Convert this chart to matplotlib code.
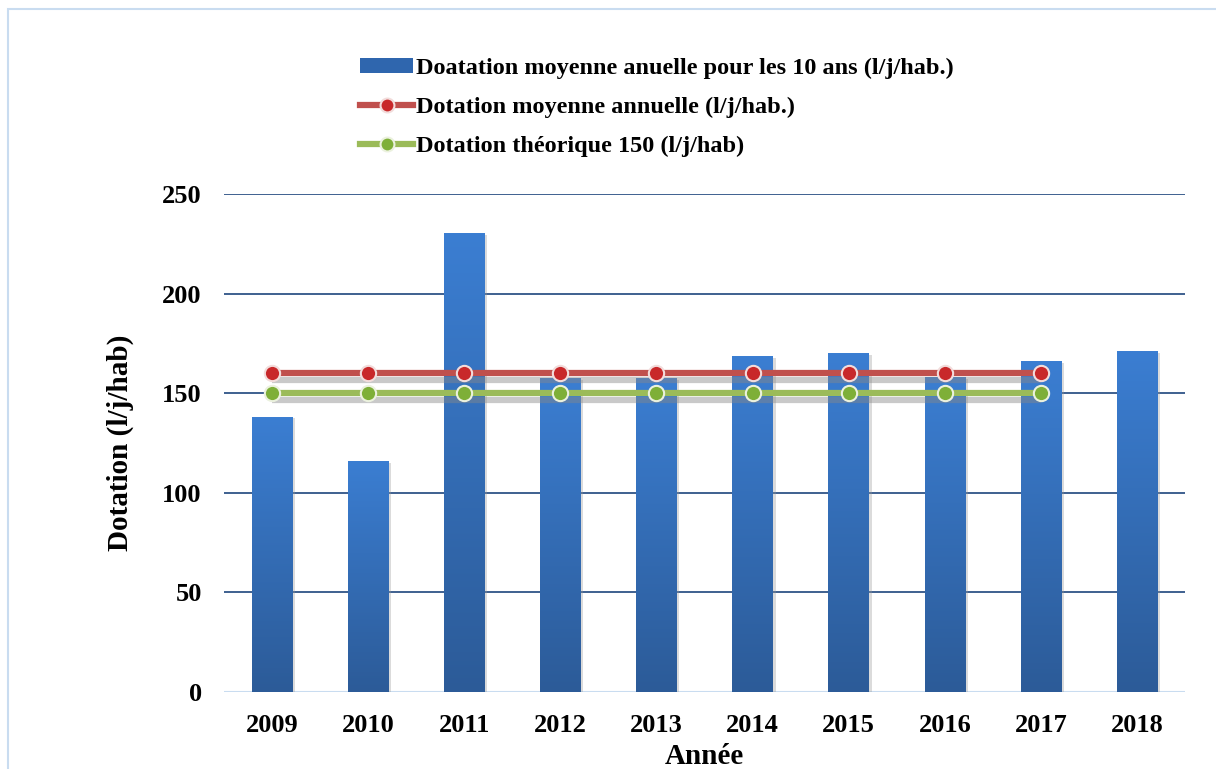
import matplotlib
matplotlib.use("Agg")
import matplotlib.pyplot as plt
import matplotlib.patheffects as pe
from matplotlib.patches import Patch, Rectangle
from matplotlib.lines import Line2D
from matplotlib.colors import LinearSegmentedColormap
import numpy as np

years = ["2009", "2010", "2011", "2012", "2013", "2014", "2015", "2016", "2017", "2018"]
bar_values = [138, 115.5, 230, 157.5, 157.5, 168.5, 170, 158, 166, 171]
line_years = ["2009", "2010", "2011", "2012", "2013", "2014", "2015", "2016", "2017"]
moyenne_values = [160, 160, 160, 160, 160, 160, 160, 160, 160]
theorique_values = [150, 150, 150, 150, 150, 150, 150, 150, 150]
yticks = [0, 50, 100, 150, 200, 250]

label_bar = "Doatation moyenne anuelle pour les 10 ans (l/j/hab.)"
label_red = "Dotation moyenne annuelle (l/j/hab.)"
label_green = "Dotation théorique 150 (l/j/hab)"

plt.rcParams['font.family'] = ['Liberation Serif', 'DejaVu Serif']
plt.rcParams['font.weight'] = 'bold'

fig = plt.figure(figsize=(12.16, 7.69), dpi=100)
# outer frame
fig.patches.append(Rectangle((8/1216, -0.01), 1.1, 1 - 9/769 + 0.01, transform=fig.transFigure,
                             fill=False, edgecolor='#C9DCF0', linewidth=1.5))
ax = fig.add_axes([224/1216, 1 - 692/769, (1185-224)/1216, (692-194)/769])

x = np.arange(len(years))
bars = ax.bar(x, bar_values, width=0.42, color='#3A78C8', zorder=2,
              path_effects=[pe.SimplePatchShadow(offset=(2, -1), shadow_rgbFace='#999999', alpha=0.35), pe.Normal()])

grad = np.linspace(0, 1, 256).reshape(-1, 1)
cmap = LinearSegmentedColormap.from_list("g", ["#2C5B98", "#3B7ED2"])
for b in bars:
    x0, y0 = b.get_x(), b.get_y()
    w, h = b.get_width(), b.get_height()
    ax.imshow(grad, extent=[x0, x0 + w, y0, y0 + h], origin='lower', cmap=cmap,
              aspect='auto', zorder=2.1, interpolation='bilinear')

lx = [years.index(y) for y in line_years]
shadow = [pe.SimpleLineShadow(offset=(0, -5), shadow_color='#888888', alpha=0.45), pe.Normal()]
ax.plot(lx, moyenne_values, color='#C0504D', linewidth=4.5, zorder=4,
        path_effects=shadow, solid_capstyle='butt')
ax.plot(lx, theorique_values, color='#9BBB59', linewidth=4.5, zorder=4,
        path_effects=shadow, solid_capstyle='butt')
ax.plot(lx, moyenne_values, linestyle='none', marker='o', markersize=11,
        markerfacecolor='#C8282A', markeredgecolor='#F2DCDB', markeredgewidth=1.5, zorder=5)
ax.plot(lx, theorique_values, linestyle='none', marker='o', markersize=11,
        markerfacecolor='#7EAF38', markeredgecolor='#EBF1DE', markeredgewidth=1.5, zorder=5)

ax.set_xlim(-0.5, len(years) - 0.5)
ax.set_ylim(0, 250)
ax.set_yticks(yticks)
ax.set_xticks(x)
ax.set_xticklabels(years)
for yv in yticks[1:]:
    ax.axhline(yv, color='#2F5487', linewidth=1.3, zorder=1)
ax.axhline(0, color='#C9DCF0', linewidth=1.5, zorder=1)
for s in ax.spines.values():
    s.set_visible(False)
ax.tick_params(axis='both', length=0, labelsize=19)
ax.tick_params(axis='y', pad=16)
ax.tick_params(axis='x', pad=16)
for t in ax.get_xticklabels() + ax.get_yticklabels():
    t.set_fontweight('bold')

ax.set_ylabel("Dotation (l/j/hab)", fontsize=21, fontweight='bold', labelpad=20)
ax.set_xlabel("Année", fontsize=21, fontweight='bold', labelpad=4)

handles = [
    Patch(facecolor='#2F66AE', edgecolor='none'),
    Line2D([], [], color='#C0504D', linewidth=4.5, marker='o', markersize=10,
           markerfacecolor='#C8282A', markeredgecolor='#F2DCDB', markeredgewidth=1.5),
    Line2D([], [], color='#9BBB59', linewidth=4.5, marker='o', markersize=10,
           markerfacecolor='#7EAF38', markeredgecolor='#EBF1DE', markeredgewidth=1.5),
]
leg = fig.legend(handles, [label_bar, label_red, label_green], loc='upper left',
                 bbox_to_anchor=(338/1216, 1 - 36/769), frameon=False,
                 prop={'family': 'Liberation Serif', 'weight': 'bold', 'size': 17.5},
                 handlelength=2.2, handleheight=0.6, handletextpad=0.1, labelspacing=0.72)

fig.savefig("out.png", dpi=100)
